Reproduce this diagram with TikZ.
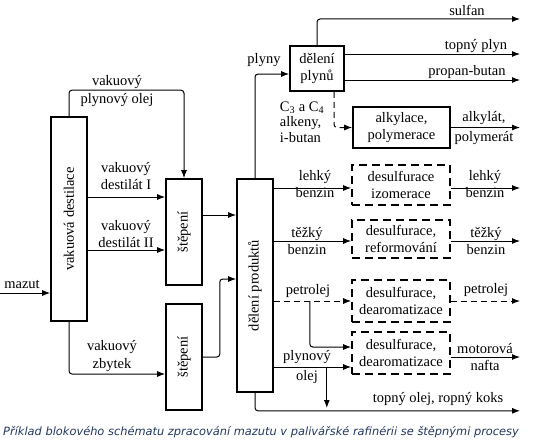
\documentclass[tikz,border=0pt]{standalone}
\usepackage{fontspec}
\setmainfont{Liberation Serif}
\newfontfamily\popisfont{DejaVu Sans}
\usetikzlibrary{arrows.meta}
\definecolor{popiska}{RGB}{35,55,95}

\begin{document}
\begin{tikzpicture}[
    x=1pt, y=-1pt,
    every node/.style={font=\fontsize{14.5}{17.5}\selectfont, inner sep=0pt},
    blok/.style={rectangle, draw=black, line width=1.6pt, align=center},
    blokc/.style={blok, dashed, dash pattern=on 8pt off 5pt},
    sipka/.style={line width=1pt, -{Latex[length=8pt,width=6pt]}},
    carka/.style={sipka, dash pattern=on 6pt off 4pt},
    kant/.style={align=center}
    ]
\useasboundingbox (0,0) rectangle (534,444);

%bloky vlevo
\node[blok, minimum width=36pt, minimum height=204pt] (vd) at (69,219) {\rotatebox{90}{vakuová destilace}};
\node[blok, minimum width=36pt, minimum height=106pt] (st1) at (184,232) {\rotatebox{90}{štěpení}};
\node[blok, minimum width=36pt, minimum height=106pt] (st2) at (184,357) {\rotatebox{90}{štěpení}};
\node[blok, minimum width=36pt, minimum height=213pt] (dp) at (255,285.5) {\rotatebox{90}{dělení produktů}};
%bloky vpravo
\node[blok, minimum width=54pt, minimum height=45pt] (dpl) at (317,68.5) {dělení\\plynů};
\node[blok, minimum width=97pt, minimum height=41pt] (alk) at (401.5,127.5) {alkylace,\\polymerace};
\node[blokc, minimum width=98pt, minimum height=40pt] (di) at (401,185) {desulfurace\\izomerace};
\node[blokc, minimum width=98pt, minimum height=38pt] (dr) at (401,239) {desulfurace,\\reformování};
\node[blokc, minimum width=98pt, minimum height=42pt] (dd1) at (401,301) {desulfurace,\\dearomatizace};
\node[blokc, minimum width=98pt, minimum height=42pt] (dd2) at (401,353) {desulfurace,\\dearomatizace};

%volne konce a vstupni body
\coordinate (mz) at (0,293);
\coordinate (konec) at (520,0);
\coordinate (d1) at ([yshift=35pt]st1.west);
\coordinate (d2) at ([yshift=-18pt]st1.west);
\coordinate (zb) at ([yshift=-17pt]st2.west);
\coordinate (s1) at ([yshift=17pt]st1.east);
\coordinate (s2) at ([yshift=6.5pt]dp.west);
\coordinate (pl) at ([yshift=-5.5pt]dpl.west);
\coordinate (tp) at ([yshift=14.5pt]dpl.east);
\coordinate (pb) at ([yshift=-11.5pt]dpl.east);
\coordinate (sf) at (520,19);
\coordinate (lb1) at ([yshift=-3pt]di.west);
\coordinate (lb2) at ([yshift=-3pt]di.east);
\coordinate (tb1) at ([yshift=-2pt]dr.west);
\coordinate (tb2) at ([yshift=-2pt]dr.east);
\coordinate (po) at ([yshift=6pt]dd2.west);
\coordinate (po1) at ([yshift=-14pt]dd2.west);
\coordinate (mn) at ([yshift=-4pt]dd2.east);
\coordinate (to) at ([yshift=-18pt]konec |- dp.south);

%vstupy
\draw[sipka] (mz) -- (mz -| vd.west);
\draw[sipka, rounded corners=3pt] (vd.north) -- ++(0,-26) -| (st1.north);
\draw[sipka] (vd.east |- d1) -- (d1);
\draw[sipka] (vd.east |- d2) -- (d2);
\draw[sipka, rounded corners=3pt] (vd.south) |- (zb);
\draw[sipka] (s1) -- (dp.west |- s1);
\draw[sipka, rounded corners=3pt] (st2.east) -- ++(17,0) |- (s2);

%plyny
\draw[sipka, rounded corners=3pt] (dp.north) |- (pl);
\draw[sipka, rounded corners=3pt] (dpl.north) |- (sf);
\draw[sipka] (tp) -- (konec |- tp);
\draw[sipka] (pb) -- (konec |- pb);
\draw[carka, rounded corners=3pt] ([xshift=17pt]dpl.south) |- (alk.west);
\draw[sipka] (alk.east) -- (konec |- alk.east);

%benziny
\draw[sipka] (dp.east |- lb1) -- (lb1);
\draw[sipka] (lb2) -- (konec |- lb2);
\draw[sipka] (dp.east |- tb1) -- (tb1);
\draw[sipka] (tb2) -- (konec |- tb2);

%petrolej a nafta
\draw[carka] (dp.east |- dd1.west) -- (dd1.west);
\draw[carka] (dd1.east) -- (konec |- dd1.east);
\draw[sipka, rounded corners=3pt] ([xshift=36pt]dp.east |- dd1.west) |- (po);
\draw[sipka] (dp.east |- po1) -- (po1);
\draw[sipka] (mn) -- (konec |- mn);
\draw[sipka] ([xshift=53pt]dp.east |- po1) -- ++(0,41);
\draw[sipka, rounded corners=3pt] (dp.south) |- (to);

%popisky
\node at (22,284) {mazut};
\node[kant] at (117,91) {vakuový\\plynový olej};
\node[kant] at (126,176) {vakuový\\destilát I};
\node[kant] at (126,234) {vakuový\\destilát II};
\node[kant] at (112,356) {vakuový\\zbytek};
\node at (264,60) {plyny};
\node at (467,10) {sulfan};
\node at (476,46) {topný plyn};
\node at (467,72) {propan-butan};
\node[align=left, font=\fontsize{14.5}{15.5}\selectfont] at (302,122) {C\textsubscript{3} a C\textsubscript{4}\\alkeny,\\i-butan};
\node[kant, font=\fontsize{14.5}{20}\selectfont] at (484,128) {alkylát,\\polymerát};
\node[kant] at (315,184) {lehký\\benzin};
\node[kant] at (485,184) {lehký\\benzin};
\node[kant] at (307,241) {těžký\\benzin};
\node[kant] at (486,241) {těžký\\benzin};
\node at (308,291) {petrolej};
\node at (486,290) {petrolej};
\node[kant, font=\fontsize{14.5}{20}\selectfont] at (307,367) {plynový\\olej};
\node[kant] at (485,357) {motorová\\nafta};
\node at (438,399) {topný olej, ropný koks};
\node[anchor=west, font=\popisfont\itshape\fontsize{11.4}{13}\selectfont, text=popiska] at (3,432) {Příklad blokového schématu zpracování mazutu v palivářské rafinérii se štěpnými procesy};
\end{tikzpicture}
\end{document}
